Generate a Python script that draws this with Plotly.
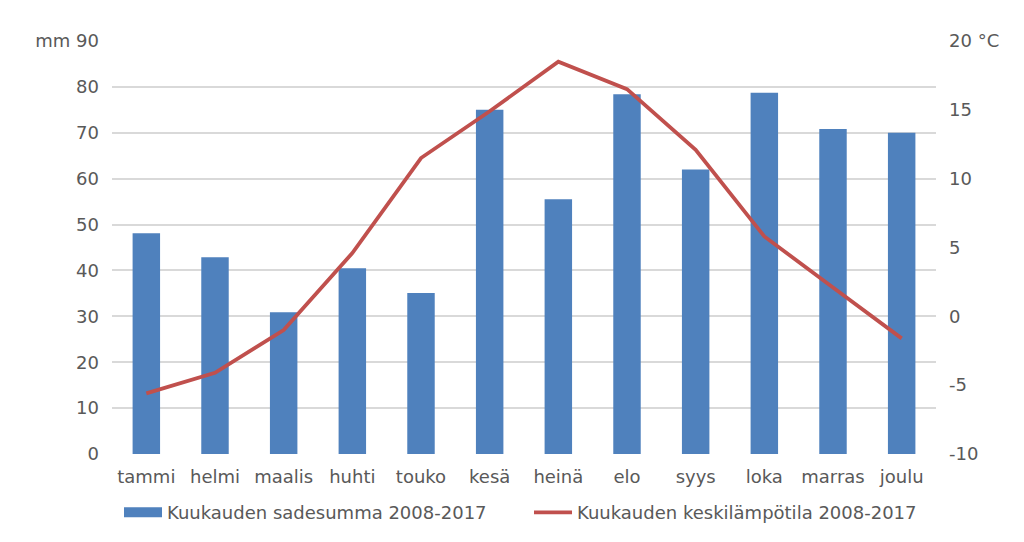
import plotly.graph_objects as go

# data
months = ["tammi", "helmi", "maalis", "huhti", "touko", "kesä",
          "heinä", "elo", "syys", "loka", "marras", "joulu"]
rain_mm = [48.1, 42.9, 30.9, 40.5, 35.1, 75.0, 55.5, 78.4, 62.0, 78.7, 70.8, 70.0]
temp_c = [-5.6, -4.1, -1.0, 4.6, 11.5, 14.9, 18.5, 16.5, 12.1, 5.8, 2.1, -1.6]

mm_ticks = [0, 10, 20, 30, 40, 50, 60, 70, 80, 90]
mm_labels = ["0", "10", "20", "30", "40", "50", "60", "70", "80", "mm 90"]
c_ticks = [-10, -5, 0, 5, 10, 15, 20]
c_labels = ["-10", "-5", "0", "5", "10", "15", "20 °C"]

rain_name = "Kuukauden sadesumma 2008-2017"
temp_name = "Kuukauden keskilämpötila 2008-2017"
blue = "#4F81BD"
red = "#C0504D"
txt = "#595959"
font = dict(family="DejaVu Sans, Verdana, sans-serif", size=18, color=txt)

fig = go.Figure()
fig.add_trace(go.Bar(x=months, y=rain_mm, name=rain_name, showlegend=False,
                     marker=dict(color=blue, line=dict(width=0))))
# legend-only entry so the bar key is a wide rectangle like in Excel
fig.add_trace(go.Scatter(x=[None], y=[None], mode="lines", name=rain_name,
                         line=dict(color=blue, width=10)))
fig.add_trace(go.Scatter(x=months, y=temp_c, yaxis="y2", mode="lines",
                         name=temp_name, line=dict(color=red, width=3.8)))

# the page has an 8px body margin, so the figure is a bit smaller than the window
fig.update_layout(
    width=1016, height=534,
    margin=dict(l=104, r=88, t=33, b=88, autoexpand=False),
    paper_bgcolor="white", plot_bgcolor="white",
    font=font,
    bargap=0.6,
    showlegend=True,
    legend=dict(orientation="h", x=0.0085, xanchor="left",
                yref="container", y=0.055, yanchor="middle",
                font=dict(size=18, color=txt), itemwidth=38, entrywidth=357,
                tracegroupgap=0),
    xaxis=dict(showgrid=False, showline=False, ticks="", ticklabelstandoff=10,
               tickfont=dict(size=18, color=txt)),
    yaxis=dict(range=[0, 90], tickvals=mm_ticks, ticktext=mm_labels,
               showgrid=True, gridcolor="#D9D9D9", gridwidth=1.5, zeroline=False,
               ticklabelstandoff=12, tickfont=dict(size=18, color=txt)),
    yaxis2=dict(range=[-10, 20], tickvals=c_ticks, ticktext=c_labels,
                overlaying="y", side="right", showgrid=False, zeroline=False,
                ticklabelstandoff=12, tickfont=dict(size=18, color=txt)),
)

fig.write_html("out.html")
